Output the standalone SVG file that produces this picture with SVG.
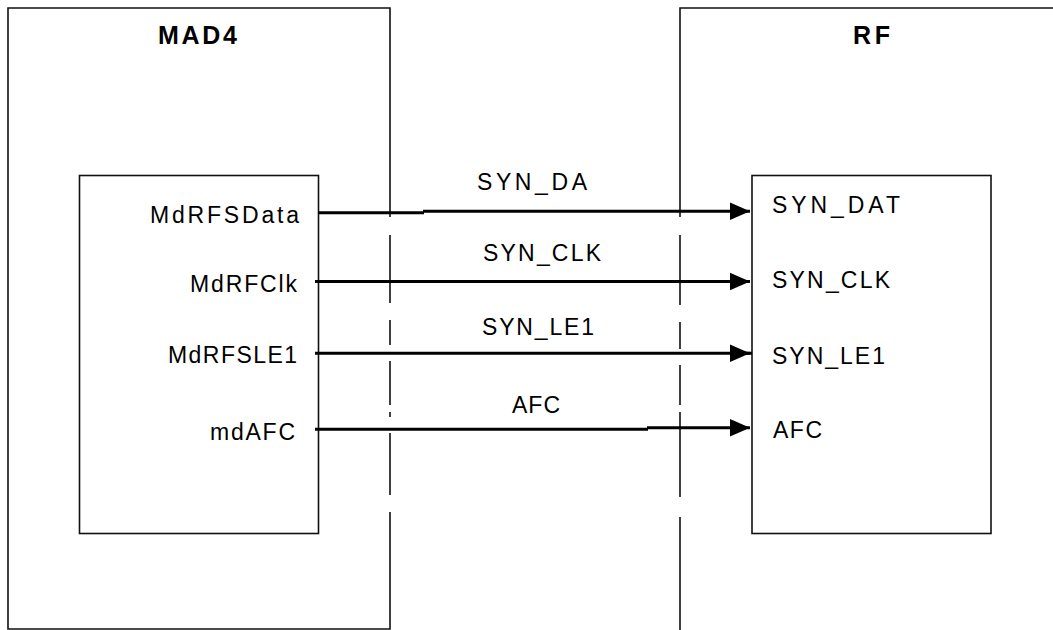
<svg xmlns="http://www.w3.org/2000/svg" width="1053" height="630" viewBox="0 0 1053 630">
  <style>
    .box { fill: none; stroke: #111; stroke-width: 1.6; }
    .sep { fill: none; stroke: #111; stroke-width: 1.6; }
    .wire { fill: none; stroke: #000; stroke-width: 3; }
    .title { font-family: "Liberation Sans", Arial, sans-serif; font-weight: bold; font-size: 25px; fill: #000; }
    .sig { font-family: "Liberation Sans", Arial, sans-serif; font-size: 23px; fill: #000; }
  </style>
  <defs>
    <marker id="arr" markerUnits="userSpaceOnUse" markerWidth="22" markerHeight="20" viewBox="-21 -9.5 22 19" refX="0" refY="0" orient="auto">
      <path d="M-20,-8.8 L0,0 L-20,8.8 Z" fill="#000"/>
    </marker>
  </defs>
  <rect width="1053" height="630" fill="#fff"/>

  <g id="mad4">
    <path class="box" d="M390,217 V8 H8 V629 H390 V512"/>
    <path class="sep" d="M390,235 V303 M390,320 V345 M390,361 V405 M390,412 V417 M390,433 V495"/>
    <text class="title" x="158" y="44" textLength="79" lengthAdjust="spacing">MAD4</text>
    <g id="mad4-inner">
      <rect class="box" x="79.5" y="175.5" width="239" height="358"/>
      <text class="sig" x="150" y="223" textLength="149" lengthAdjust="spacing">MdRFSData</text>
      <text class="sig" x="190" y="292" textLength="107" lengthAdjust="spacing">MdRFClk</text>
      <text class="sig" x="168" y="363" textLength="129" lengthAdjust="spacing">MdRFSLE1</text>
      <text class="sig" x="210" y="440" textLength="85" lengthAdjust="spacing">mdAFC</text>
    </g>
  </g>

  <g id="rf">
    <path class="box" d="M1053,8 H680 V217"/>
    <path class="sep" d="M680,235 V305 M680,322 V349 M680,365 V405 M680,412 V497 M680,517 V630"/>
    <text class="title" x="853" y="44" textLength="37" lengthAdjust="spacing">RF</text>
    <g id="rf-inner">
      <rect class="box" x="752" y="175.5" width="239" height="358"/>
      <text class="sig" x="772" y="213" textLength="128" lengthAdjust="spacing">SYN_DAT</text>
      <text class="sig" x="772" y="288" textLength="118" lengthAdjust="spacing">SYN_CLK</text>
      <text class="sig" x="772" y="364" textLength="113" lengthAdjust="spacing">SYN_LE1</text>
      <text class="sig" x="773" y="438" textLength="49" lengthAdjust="spacing">AFC</text>
    </g>
  </g>

  <g id="connectors">
    <path class="wire" d="M318,212.7 H424 M423,211.2 H750" marker-end="url(#arr)"/>
    <path class="wire" d="M315,281.5 H750" marker-end="url(#arr)"/>
    <path class="wire" d="M315,353.3 H752" stroke-width="2.5"/>
    <path class="wire" d="M740,353.3 H750" stroke-width="2.5" marker-end="url(#arr)"/>
    <path class="wire" d="M315,429.3 H648 M647,427.7 H750" marker-end="url(#arr)"/>
    <text class="sig" x="477" y="190" textLength="110" lengthAdjust="spacing">SYN_DA</text>
    <text class="sig" x="483" y="261" textLength="118" lengthAdjust="spacing">SYN_CLK</text>
    <text class="sig" x="482" y="335" textLength="112" lengthAdjust="spacing">SYN_LE1</text>
    <text class="sig" x="512" y="413" textLength="48" lengthAdjust="spacing">AFC</text>
  </g>
</svg>
